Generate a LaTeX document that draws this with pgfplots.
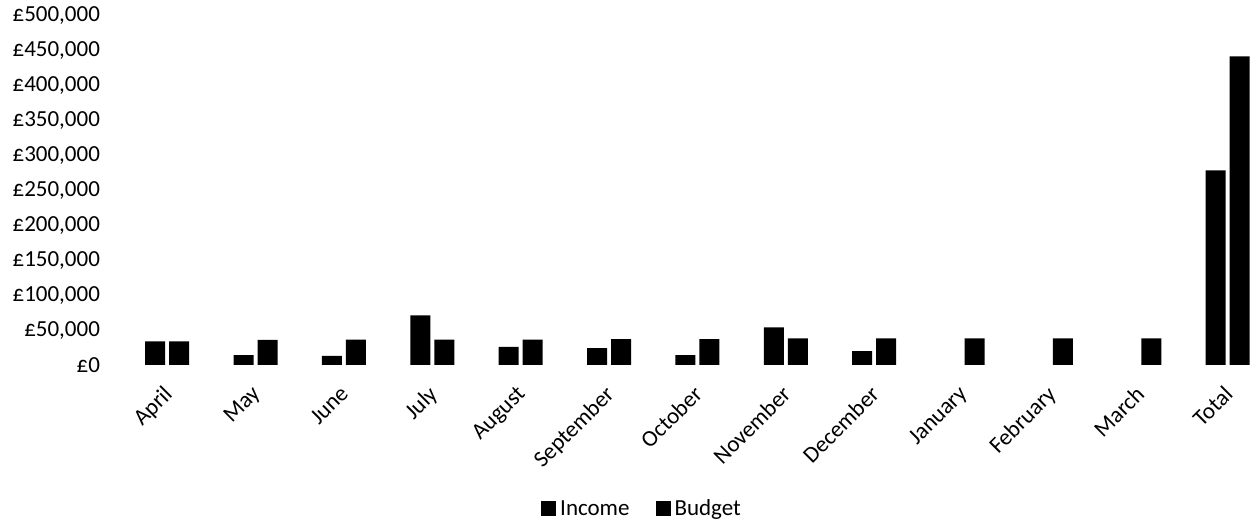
\documentclass[border=0pt]{standalone}
\usepackage{pgfplots}
\pgfplotsset{compat=1.18}
\usepackage{fontspec}
\setmainfont{Carlito}
\begin{document}
\begin{tikzpicture}[font=\fontsize{11.5}{13}\selectfont]
\useasboundingbox (0,0) rectangle (628pt,264pt);
\begin{axis}[
  at={(61.5pt,81.5pt)}, anchor=south west,
  scale only axis,
  width=566.5pt, height=174.5pt,
  xmin=-0.5, xmax=12.32,
  ymin=0, ymax=500000,
  axis line style={draw=none},
  tick style={draw=none},
  ybar, bar width=10pt,
  ytick={0,50000,...,500000},
  yticklabel={\pounds\pgfmathprintnumber[fixed,1000 sep={,}]{\tick}},
  yticklabel style={xshift=-8pt},
  scaled y ticks=false,
  /pgf/number format/assume math mode=true,
  xtick={0,...,12},
  xticklabels={April,May,June,July,August,September,October,November,December,January,February,March,Total},
  xticklabel style={xshift=-2.5pt, yshift=-0.5pt, rotate=45, anchor=north east},
  legend style={at={(0.459,-0.415)}, anchor=center, draw=none, legend columns=2,
    /tikz/every even column/.append style={column sep=11pt},
    nodes={text height=1.6ex, text depth=0.4ex, inner xsep=2pt},
    font=\fontsize{11.5}{13}\selectfont},
  legend image code/.code={\fill[black] (0pt,-3.3pt) rectangle (7.5pt,4.2pt);},
]
\addplot[fill=black, draw=none] coordinates {
(0,34000) (1,14000) (2,13000) (3,71000) (4,26000) (5,24000) (6,14000) (7,54000) (8,20000) (12,279000)};
\addplot[fill=black, draw=none] coordinates {
(0,34000) (1,36000) (2,36500) (3,36500) (4,36500) (5,37000) (6,37000) (7,38000) (8,38000) (9,38000) (10,38000) (11,38000) (12,442000)};
\legend{Income,Budget}
\end{axis}
\end{tikzpicture}
\end{document}
